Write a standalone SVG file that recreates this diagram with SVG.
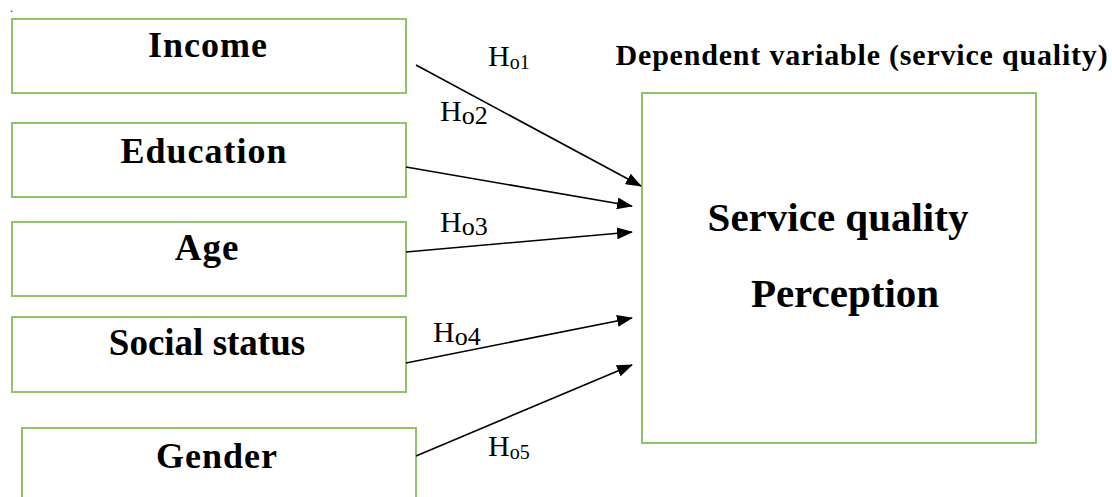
<svg xmlns="http://www.w3.org/2000/svg" width="1112" height="497" viewBox="0 0 1112 497">
<style>
.box{fill:#fff;stroke:#8fc46a;stroke-width:2}
.lbl{font-family:"Liberation Serif","Times New Roman",serif;font-weight:bold;fill:#000;text-anchor:middle}
.h{font-family:"Liberation Serif","Times New Roman",serif;font-size:30px;fill:#000}
.conn{stroke:#000;stroke-width:1.6;fill:none;marker-end:url(#ah)}
</style>
<defs>
<marker id="ah" markerWidth="16" markerHeight="12" refX="15" refY="6" orient="auto" markerUnits="userSpaceOnUse">
<path d="M0,0 L16,6 L0,12 Z" fill="#000"/>
</marker>
</defs>
<rect width="1112" height="497" fill="#fff"/>
<text x="10" y="12" font-family="Liberation Serif, serif" font-size="12" fill="#203060">.</text>
<g id="income"><rect class="box" x="12" y="19" width="394" height="74"/><text class="lbl" x="208" y="57" font-size="36" letter-spacing="1">Income</text></g>
<g id="education"><rect class="box" x="12" y="123" width="394" height="74"/><text class="lbl" x="204" y="163" font-size="36" letter-spacing="1">Education</text></g>
<g id="age"><rect class="box" x="12" y="222" width="394" height="74"/><text class="lbl" x="207" y="260" font-size="37" letter-spacing="1">Age</text></g>
<g id="social"><rect class="box" x="12" y="317" width="394" height="75"/><text class="lbl" x="207" y="355" font-size="37">Social status</text></g>
<g id="gender"><rect class="box" x="22" y="428" width="394" height="80"/><text class="lbl" x="217" y="468" font-size="36" letter-spacing="1">Gender</text></g>
<g id="dependent-label"><text class="lbl" x="862" y="65" font-size="30" letter-spacing="0.8">Dependent variable (service quality)</text></g>
<g id="service"><rect class="box" x="642" y="93" width="394" height="350"/><text class="lbl" x="838" y="231" font-size="41">Service quality</text><text class="lbl" x="845" y="307" font-size="41">Perception</text></g>
<g id="connectors">
<line class="conn" x1="416" y1="65" x2="641" y2="186"/>
<line class="conn" x1="406" y1="167" x2="632" y2="206"/>
<line class="conn" x1="406" y1="252" x2="632" y2="232"/>
<line class="conn" x1="406" y1="363" x2="632" y2="318"/>
<line class="conn" x1="416" y1="456" x2="632" y2="365"/>
</g>
<g id="hypotheses">
<text class="h" x="488" y="66">H<tspan font-size="20" dy="3">o1</tspan></text>
<text class="h" x="440" y="121">H<tspan font-size="26" dy="3">o2</tspan></text>
<text class="h" x="440" y="232">H<tspan font-size="26" dy="3">o3</tspan></text>
<text class="h" x="433" y="342">H<tspan font-size="26" dy="3">o4</tspan></text>
<text class="h" x="488" y="456">H<tspan font-size="20" dy="3">o5</tspan></text>
</g>
</svg>
